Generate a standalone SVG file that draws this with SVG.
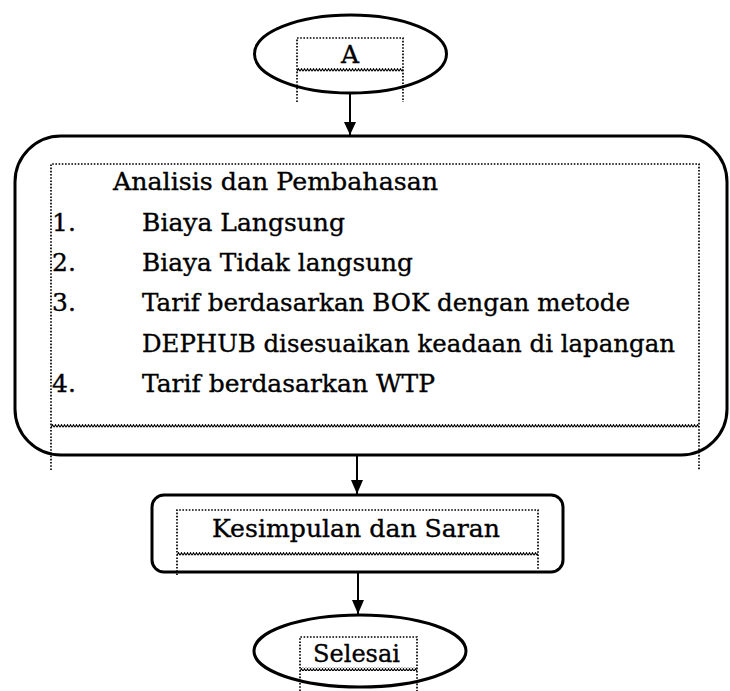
<svg xmlns="http://www.w3.org/2000/svg" width="730" height="691" viewBox="0 0 730 691">
<style>
.shape{fill:#fff;stroke:#000;stroke-width:3}
.dot{fill:none;stroke:#000;stroke-width:1.7;stroke-dasharray:1.6 1.6}
.t{font-family:"DejaVu Serif","Liberation Serif",serif;font-size:25px;fill:#000;stroke:#000;stroke-width:0.35}
.conn{stroke:#000;stroke-width:2;fill:none}
</style>
<defs>
<pattern id="wave" width="3" height="4" patternUnits="userSpaceOnUse">
<path d="M0,3.3 L1.5,0.7 L3,3.3" fill="none" stroke="#000" stroke-width="1.1"/>
</pattern>
</defs>
<g id="connectors">
<line class="conn" x1="350" y1="94" x2="350" y2="135"/>
<path d="M344,122 L356,122 L350,135 Z"/>
<line class="conn" x1="357" y1="456" x2="357" y2="494"/>
<path d="M351,480 L363,480 L357,494 Z"/>
<line class="conn" x1="358" y1="573" x2="358" y2="614"/>
<path d="M352,600 L364,600 L358,614 Z"/>
</g>
<g id="node-A">
<ellipse class="shape" cx="350.5" cy="54" rx="96" ry="39"/>
<path class="dot" d="M297,102 V38 H403 V102"/>
<rect x="297" y="68" width="106" height="4" fill="url(#wave)"/>
<text class="t" x="350" y="63" text-anchor="middle">A</text>
</g>
<g id="node-analisis">
<rect class="shape" x="15" y="136" width="712" height="319" rx="46" ry="46"/>
<path class="dot" d="M51,470 V164 H699 V470"/>
<rect x="51" y="424" width="648" height="4" fill="url(#wave)"/>
<text class="t" x="113" y="190" textLength="325" lengthAdjust="spacingAndGlyphs">Analisis dan Pembahasan</text>
<text class="t" x="52" y="231">1.</text>
<text class="t" x="142" y="231" textLength="203" lengthAdjust="spacingAndGlyphs">Biaya Langsung</text>
<text class="t" x="52" y="271">2.</text>
<text class="t" x="142" y="271" textLength="271" lengthAdjust="spacingAndGlyphs">Biaya Tidak langsung</text>
<text class="t" x="52" y="311">3.</text>
<text class="t" x="142" y="311" textLength="488" lengthAdjust="spacingAndGlyphs">Tarif berdasarkan BOK dengan metode</text>
<text class="t" x="142" y="352" textLength="533" lengthAdjust="spacingAndGlyphs">DEPHUB disesuaikan keadaan di lapangan</text>
<text class="t" x="52" y="392">4.</text>
<text class="t" x="142" y="392" textLength="293" lengthAdjust="spacingAndGlyphs">Tarif berdasarkan WTP</text>
</g>
<g id="node-kesimpulan">
<rect class="shape" x="152" y="495" width="411" height="77" rx="12" ry="12"/>
<path class="dot" d="M177,575 V510 H538 V569"/>
<rect x="177" y="552" width="361" height="4" fill="url(#wave)"/>
<text class="t" x="212" y="537" textLength="288" lengthAdjust="spacingAndGlyphs">Kesimpulan dan Saran</text>
</g>
<g id="node-selesai">
<ellipse class="shape" cx="360" cy="651" rx="106" ry="36"/>
<path class="dot" d="M300,691 V637 H417 V691"/>
<rect x="300" y="667" width="117" height="4" fill="url(#wave)"/>
<text class="t" x="313" y="662" textLength="87" lengthAdjust="spacingAndGlyphs">Selesai</text>
</g>
</svg>
